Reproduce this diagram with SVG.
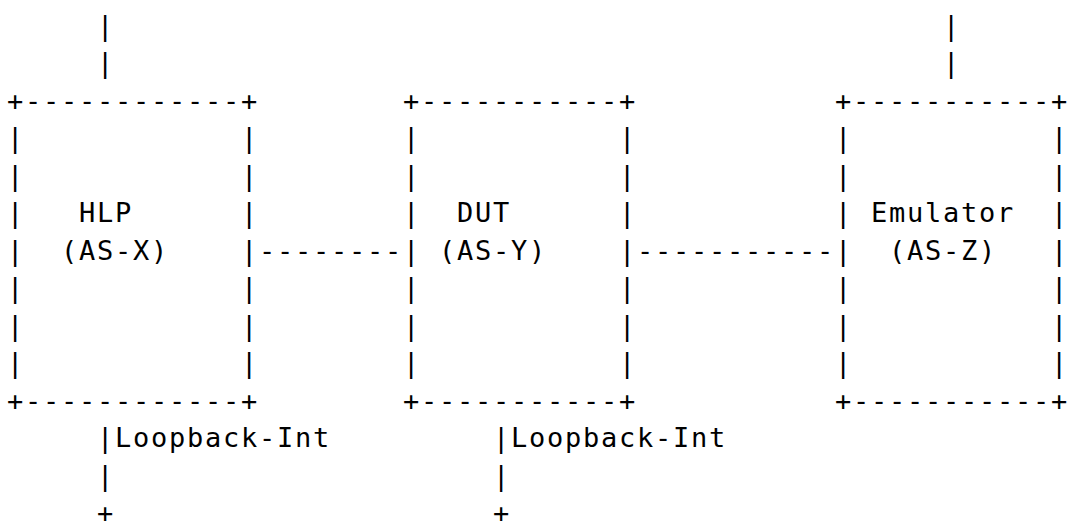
<svg xmlns="http://www.w3.org/2000/svg" width="1072" height="526" viewBox="0 0 1072 526" xml:space="preserve">
<style>
.t { font-family: "DejaVu Sans Mono", "Liberation Mono", monospace; font-size: 27px; letter-spacing: 1.75px; fill: #000; white-space: pre; }
</style>
<rect x="0" y="0" width="1072" height="526" fill="#fff"/>
<g id="node-hlp">
<text class="t" x="7" y="109.8">+------------+</text>
<text class="t" x="7" y="147.3">|            |</text>
<text class="t" x="7" y="184.8">|            |</text>
<text class="t" x="7" y="222.3">|   HLP      |</text>
<text class="t" x="7" y="259.8">|  (AS-X)    |</text>
<text class="t" x="7" y="297.3">|            |</text>
<text class="t" x="7" y="334.8">|            |</text>
<text class="t" x="7" y="372.3">|            |</text>
<text class="t" x="7" y="409.8">+------------+</text>
</g>
<g id="node-dut">
<text class="t" x="403" y="109.8">+-----------+</text>
<text class="t" x="403" y="147.3">|           |</text>
<text class="t" x="403" y="184.8">|           |</text>
<text class="t" x="403" y="222.3">|  DUT      |</text>
<text class="t" x="403" y="259.8">| (AS-Y)    |</text>
<text class="t" x="403" y="297.3">|           |</text>
<text class="t" x="403" y="334.8">|           |</text>
<text class="t" x="403" y="372.3">|           |</text>
<text class="t" x="403" y="409.8">+-----------+</text>
</g>
<g id="node-emulator">
<text class="t" x="835" y="109.8">+-----------+</text>
<text class="t" x="835" y="147.3">|           |</text>
<text class="t" x="835" y="184.8">|           |</text>
<text class="t" x="835" y="222.3">| Emulator  |</text>
<text class="t" x="835" y="259.8">|  (AS-Z)   |</text>
<text class="t" x="835" y="297.3">|           |</text>
<text class="t" x="835" y="334.8">|           |</text>
<text class="t" x="835" y="372.3">|           |</text>
<text class="t" x="835" y="409.8">+-----------+</text>
</g>
<g id="connectors">
<text class="t" x="97" y="34.8">|</text>
<text class="t" x="97" y="72.3">|</text>
<text class="t" x="943" y="34.8">|</text>
<text class="t" x="943" y="72.3">|</text>
<text class="t" x="259" y="259.8">--------</text>
<text class="t" x="637" y="259.8">-----------</text>
<text class="t" x="97" y="447.3">|Loopback-Int</text>
<text class="t" x="97" y="484.8">|</text>
<text class="t" x="97" y="522.3">+</text>
<text class="t" x="493" y="447.3">|Loopback-Int</text>
<text class="t" x="493" y="484.8">|</text>
<text class="t" x="493" y="522.3">+</text>
</g>
</svg>
